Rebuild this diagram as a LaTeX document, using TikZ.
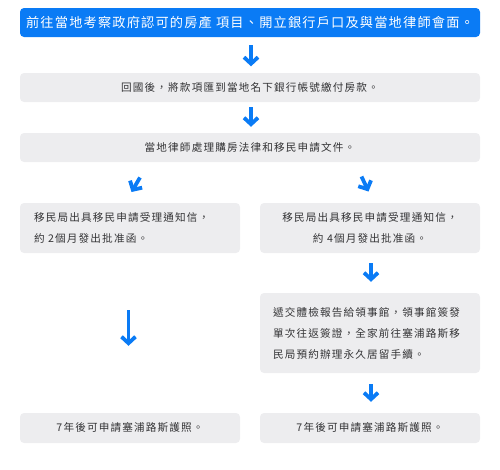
\documentclass[tikz,border=0pt]{standalone}
\usepackage{fontspec}
\newfontfamily\cjk[LetterSpace=9]{Noto Sans CJK TC}
\newfontfamily\cjks[LetterSpace=11]{Noto Sans CJK TC}
\usetikzlibrary{arrows.meta}
\definecolor{iosblue}{HTML}{0A7BF5}
\definecolor{boxgray}{HTML}{EDEDEF}
\definecolor{txtgray}{HTML}{333335}
\tikzset{
  box/.style={fill=boxgray, rounded corners=4pt, inner sep=0pt, text=txtgray,
    font=\cjks\fontsize{10.6}{21}\selectfont},
  bluebox/.style={fill=iosblue, rounded corners=4pt, inner sep=0pt, text=white,
    font=\cjk\fontsize{13.2}{15}\selectfont},
  arr/.style={draw=iosblue, line width=3.8pt,
    -{Straight Barb[length=6.5pt,width=14pt,line width=3.8pt]}},
  thinarr/.style={draw=iosblue, line width=2.8pt,
    -{Straight Barb[length=6.5pt,width=14pt,line width=3.8pt]}}
}
\begin{document}
\begin{tikzpicture}[x=1pt,y=-1pt]
\useasboundingbox (0,0) rectangle (500,469);
\node[bluebox, minimum width=460pt, minimum height=29pt] (b1) at (250,22.5)
  {前往當地考察政府認可的房產 項目、開立銀行戶口及與當地律師會面。};
\node[box, minimum width=460pt, minimum height=29pt] (b2) at (250,87.5)
  {回國後，將款項匯到當地名下銀行帳號繳付房款。};
\node[box, minimum width=460pt, minimum height=29pt] (b3) at (250,147.5)
  {當地律師處理購房法律和移民申請文件。};
\node[box, minimum width=220pt, minimum height=50pt, text width=192pt, align=left] (b4l) at (130,228)
  {移民局出具移民申請受理通知信，\\約 2個月發出批准函。};
\node[box, minimum width=220pt, minimum height=50pt, text width=200pt, align=center] (b4r) at (370,228)
  {移民局出具移民申請受理通知信，\\約 4個月發出批准函。};
\node[box, minimum width=220pt, minimum height=80pt, text width=194pt, align=left] (b5r) at (370,333)
  {遞交體檢報告給領事館，領事館簽發\\單次往返簽證，全家前往塞浦路斯移\\民局預約辦理永久居留手續。};
\node[box, minimum width=220pt, minimum height=30pt] (b6l) at (130,428)
  {7年後可申請塞浦路斯護照。};
\node[box, minimum width=220pt, minimum height=30pt] (b6r) at (370,428)
  {7年後可申請塞浦路斯護照。};

\coordinate (l1) at (140,177.5);
\coordinate (l2) at (131.5,192);
\coordinate (r1) at (361.5,176.5);
\coordinate (r2) at (368.5,191.5);

\draw[arr] ([xshift=1pt,yshift=-8pt]b1.south) -- ([xshift=1pt,yshift=6.5pt]b2.north);
\draw[arr] ([xshift=1pt,yshift=-5pt]b2.south) -- ([xshift=1pt,yshift=6pt]b3.north);
\draw[arr] (l1) -- (l2);
\draw[arr] (r1) -- (r2);
\draw[arr] ([xshift=1pt,yshift=-10pt]b4r.south) -- ([xshift=1pt,yshift=11pt]b5r.north);
\draw[arr] ([xshift=1pt,yshift=-11pt]b5r.south) -- ([xshift=1pt,yshift=11pt]b6r.north);
\draw[thinarr] ([xshift=-1.5pt,yshift=-57pt]b4l.south) -- ([xshift=-1.5pt,yshift=67pt]b6l.north);
\end{tikzpicture}
\end{document}
